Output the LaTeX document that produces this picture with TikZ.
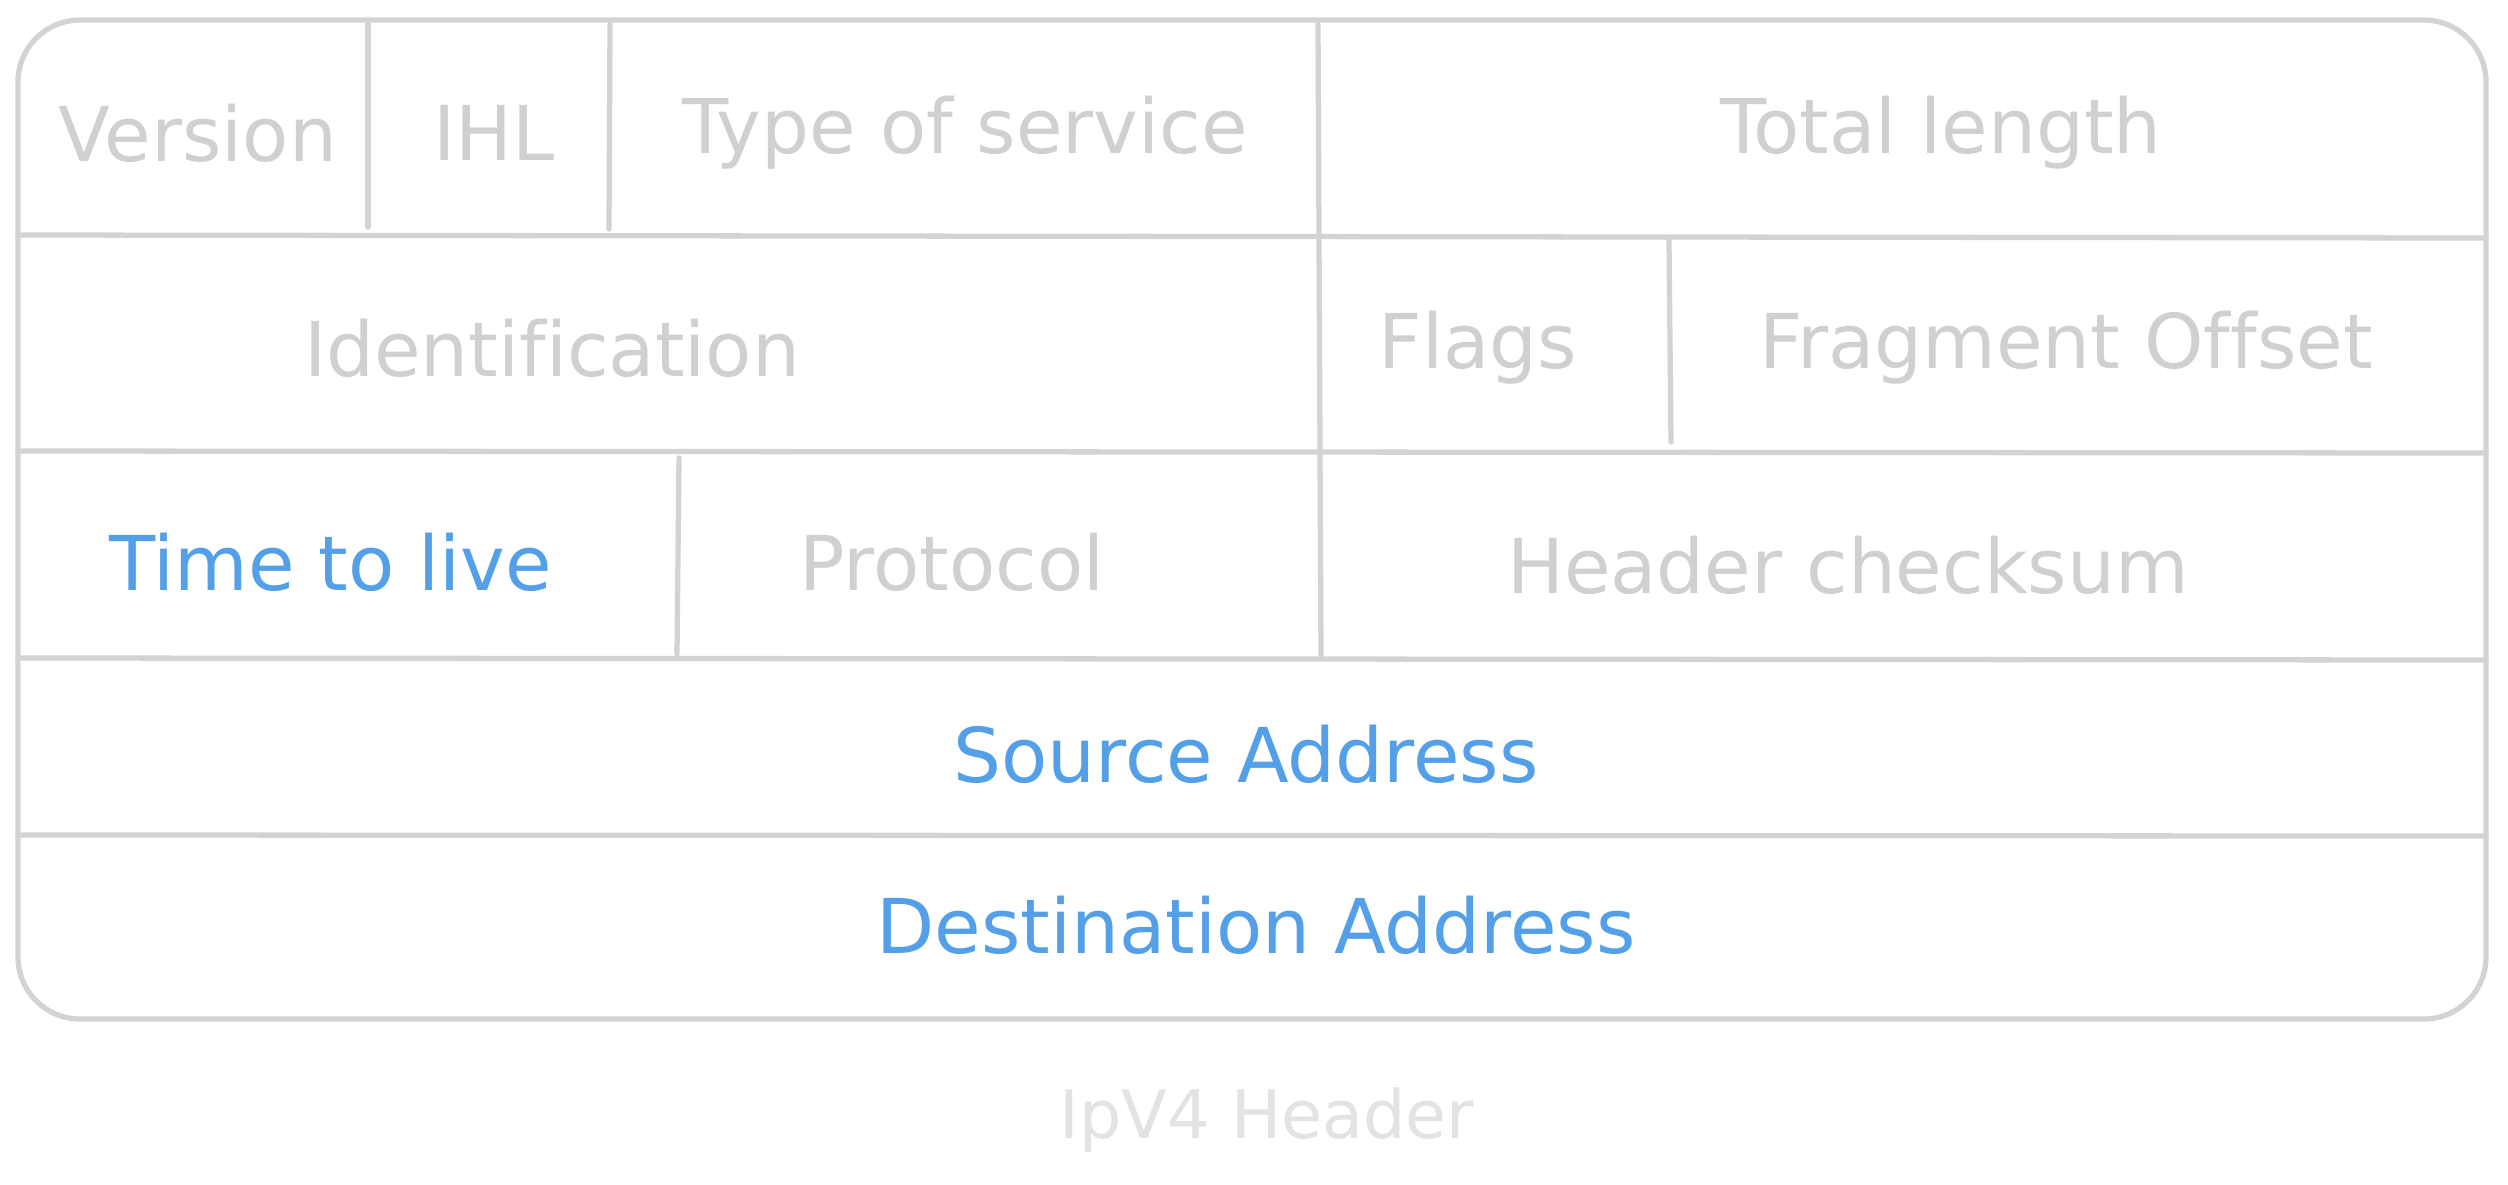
\documentclass[tikz,border=0pt]{standalone}
\usepackage{fontspec}
\setmainfont[Ligatures=NoCommon]{DejaVu Sans}
\definecolor{frame}{HTML}{D3D3D3}
\definecolor{dim}{HTML}{D0D0D0}
\definecolor{hot}{HTML}{54A0E8}
\definecolor{cap}{HTML}{E3E3E3}
\begin{document}
\begin{tikzpicture}[x=0.01cm,y=-0.01cm,
  rule/.style={draw=frame,line width=1.5pt,line cap=round},
  field/.style={font=\fontsize{21.5}{26}\selectfont,text=dim,inner sep=0pt,anchor=center},
  keyfield/.style={field,text=hot},
  caption/.style={field,text=cap,font=\fontsize{19}{23}\selectfont}]
\useasboundingbox[fill=white] (0,0) rectangle (2508,1184);

% outer frame
\draw[rule,rounded corners=0.62cm] (18,20) rectangle (2486,1019);

% row separators
\draw[rule] (18,235) -- (2486,238);
\draw[rule] (18,451) -- (2486,453);
\draw[rule] (18,658) -- (2486,660);
\draw[rule] (18,835) -- (2486,836);

% column separators, row 1
\draw[rule] (368,24) -- (368,227);
\draw[rule] (610,24) -- (609,229);
\draw[rule] (1318,24) -- (1319,235);
% row 2
\draw[rule] (1319,238) -- (1320,451);
\draw[rule] (1669,240) -- (1671,442);
% row 3
\draw[rule] (679,458) -- (677,654);
\draw[rule] (1320,453) -- (1321,656);

% field labels
\node[field] (ver) at (198,133) {Version};
\node[field] (ihl) at (494,133) {IHL};
\node[field] (tos) at (965,133) {Type of service};
\node[field] (len) at (1941,133) {Total length};
\node[field] (ident) at (552,348) {Identification};
\node[field] (flags) at (1478,348) {Flags};
\node[field] (frag) at (2066,348) {Fragment Offset};
\node[keyfield] (ttl) at (331,562) {Time to live};
\node[field] (proto) at (952,562) {Protocol};
\node[field] (csum) at (1848,565) {Header checksum};
\node[keyfield] (src) at (1246,754) {Source Address};
\node[keyfield] (dst) at (1256,925) {Destination Address};

\node[caption] (title) at (1267,1120) {IpV4 Header};
\end{tikzpicture}
\end{document}
